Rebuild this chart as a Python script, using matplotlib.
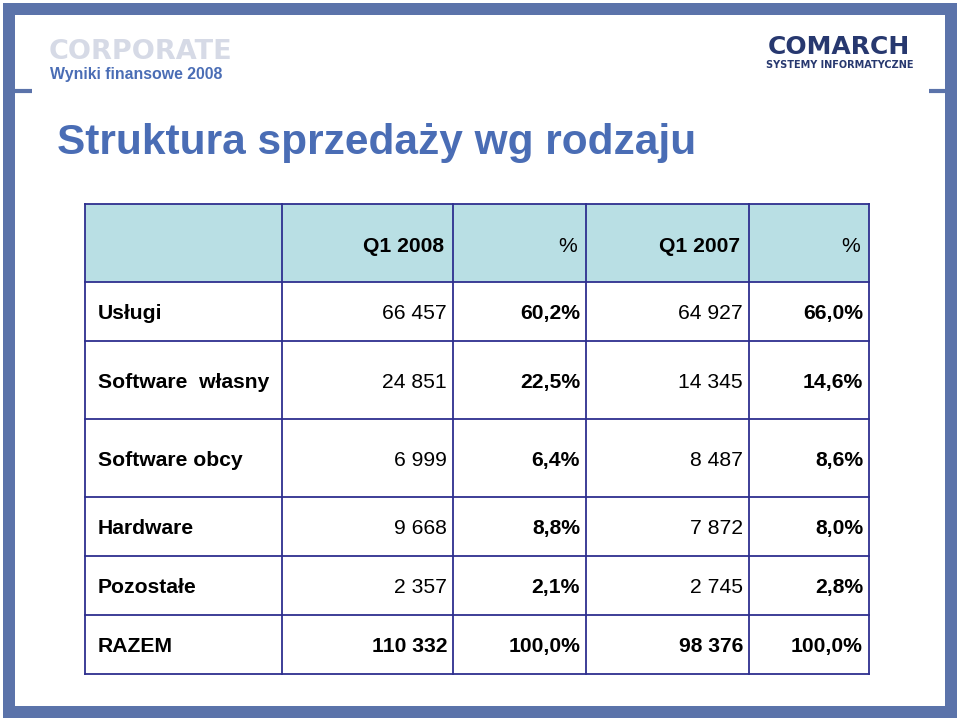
import matplotlib
matplotlib.use("Agg")
import matplotlib.pyplot as plt
from matplotlib.patches import Rectangle

# ---- data ----
title = "Struktura sprzedaży wg rodzaju"
header = ["", "Q1 2008", "%", "Q1 2007", "%"]
categories = ["Usługi", "Software  własny", "Software obcy", "Hardware", "Pozostałe", "RAZEM"]
q1_2008 = ["66 457", "24 851", "6 999", "9 668", "2 357", "110 332"]
pct_2008 = ["60,2%", "22,5%", "6,4%", "8,8%", "2,1%", "100,0%"]
q1_2007 = ["64 927", "14 345", "8 487", "7 872", "2 745", "98 376"]
pct_2007 = ["66,0%", "14,6%", "8,6%", "8,0%", "2,8%", "100,0%"]

# ---- layout ----
col_edges = [85, 282, 453, 586, 749, 869]
row_edges = [204, 282, 341, 419, 497, 556, 615, 674]

BORDER = "#5b73aa"
GRID = "#2e2f8f"
HEAD_FILL = "#b9dfe4"
TITLE_C = "#4a6db5"
FONT = ["Liberation Sans", "DejaVu Sans"]

fig = plt.figure(figsize=(9.6, 7.2), dpi=100)
ax = fig.add_axes([0, 0, 1, 1])
ax.set_xlim(0, 960)
ax.set_ylim(720, 0)
ax.axis("off")

# frame
ax.add_patch(Rectangle((3, 3), 954, 12, color=BORDER, lw=0))
ax.add_patch(Rectangle((3, 706), 954, 12, color=BORDER, lw=0))
ax.add_patch(Rectangle((3, 3), 12, 715, color=BORDER, lw=0))
ax.add_patch(Rectangle((945, 3), 12, 715, color=BORDER, lw=0))
ax.plot([15, 32], [91, 91], color=BORDER, lw=3, solid_capstyle="butt")
ax.plot([929, 945], [91, 91], color=BORDER, lw=3, solid_capstyle="butt")

# logos
ax.text(49, 59, "CORPORATE", fontsize=19.5, fontweight="heavy", family="DejaVu Sans",
        color="#d6dae6", va="baseline", ha="left")
ax.text(50, 79, "Wyniki finansowe 2008", fontsize=11.4, fontweight="bold", family=FONT,
        color=TITLE_C, va="baseline", ha="left")
ax.text(839, 54, "COMARCH", fontsize=18, fontweight="heavy",
        family="DejaVu Sans", color="#27386f", va="baseline", ha="center")
ax.text(840, 68, "SYSTEMY INFORMATYCZNE", fontsize=7, fontweight="bold",
        family="DejaVu Sans", color="#27386f", va="baseline", ha="center")

# title
ax.text(57, 154, title, fontsize=30.5, fontweight="bold", family=FONT, color=TITLE_C,
        va="baseline", ha="left")

# table
ax.add_patch(Rectangle((col_edges[0], row_edges[0]), col_edges[-1] - col_edges[0],
                       row_edges[1] - row_edges[0], color=HEAD_FILL, lw=0))
for x in col_edges:
    ax.plot([x, x], [row_edges[0], row_edges[-1]], color=GRID, lw=1.3)
for y in row_edges:
    ax.plot([col_edges[0], col_edges[-1]], [y, y], color=GRID, lw=1.3)

FS = 15.2
off = 0.36 * FS * 100 / 72  # half cap height in px
# header
hy = (row_edges[0] + row_edges[1]) / 2
for j in range(1, 5):
    w = "bold" if header[j] != "%" else "normal"
    ax.text(col_edges[j + 1] - 9, hy + 1 + off, header[j], fontsize=FS, fontweight=w, family=FONT,
            color="black", ha="right", va="baseline")

for i, cat in enumerate(categories):
    cy = (row_edges[i + 1] + row_edges[i + 2]) / 2 + off
    last = i == len(categories) - 1
    ax.text(col_edges[0] + 13, cy, cat, fontsize=FS, fontweight="bold", family=FONT,
            ha="left", va="baseline")
    vals = [q1_2008[i], pct_2008[i], q1_2007[i], pct_2007[i]]
    for j, v in enumerate(vals):
        bold = last or j in (1, 3)
        ax.text(col_edges[j + 2] - 6, cy, v, fontsize=FS,
                fontweight="bold" if bold else "normal", family=FONT,
                ha="right", va="baseline")

fig.savefig("out.png", dpi=100)
